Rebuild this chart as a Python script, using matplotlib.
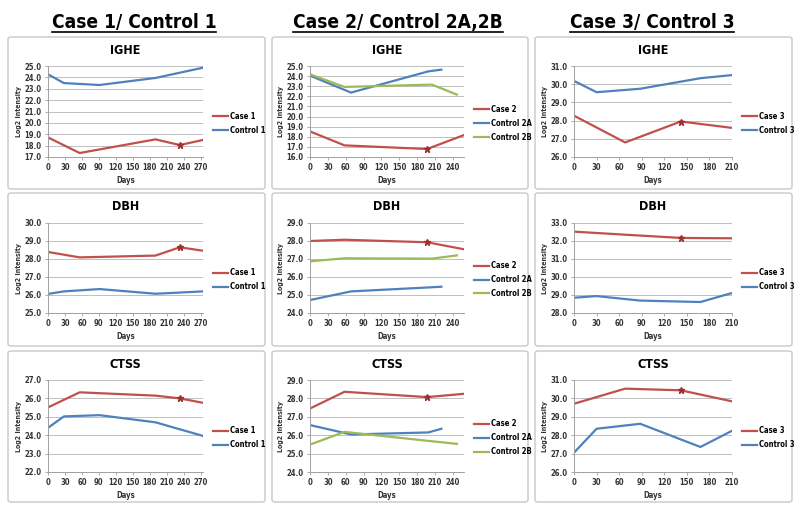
import numpy as np
import matplotlib.pyplot as plt
from matplotlib import font_manager
from matplotlib.patches import FancyBboxPatch
from matplotlib.lines import Line2D

names = {f.name for f in font_manager.fontManager.ttflist}
if 'Liberation Sans Narrow' in names:
    plt.rcParams['font.family'] = ['Liberation Sans Narrow', 'DejaVu Sans']
else:
    plt.rcParams['font.family'] = ['DejaVu Sans']
    plt.rcParams['font.stretch'] = 'condensed'

RED = '#C0504D'
BLUE = '#4F81BD'
GREEN = '#9BBB59'

col_titles = ["Case 1/ Control 1", "Case 2/ Control 2A,2B", "Case 3/ Control 3"]
row_titles = ["IGHE", "DBH", "CTSS"]

# days for each series
days_case1 = [0, 56, 190, 233, 274]
days_ctrl1 = [0, 28, 91, 190, 274]
days_case2 = [0, 58, 197, 259]
days_ctrl2a = [0, 69, 199, 221]
days_ctrl2b = [0, 58, 205, 247]
days_case3 = [0, 68, 142, 210]
days_ctrl3 = [0, 30, 88, 168, 210]

# log2 intensity values
ighe_case1 = [18.72, 17.35, 18.55, 18.05, 18.5]
ighe_ctrl1 = [24.27, 23.5, 23.33, 23.95, 24.85]
dbh_case1 = [28.39, 28.09, 28.19, 28.65, 28.46]
dbh_ctrl1 = [26.06, 26.2, 26.33, 26.07, 26.2]
ctss_case1 = [25.51, 26.33, 26.15, 26.0, 25.76]
ctss_ctrl1 = [24.4, 25.02, 25.09, 24.7, 23.96]

ighe_case2 = [18.53, 17.15, 16.79, 18.17]
ighe_ctrl2a = [24.05, 22.37, 24.47, 24.64]
ighe_ctrl2b = [24.18, 22.93, 23.16, 22.17]
dbh_case2 = [28.0, 28.07, 27.93, 27.54]
dbh_ctrl2a = [24.72, 25.2, 25.42, 25.46]
dbh_ctrl2b = [26.87, 27.04, 27.02, 27.2]
ctss_case2 = [27.45, 28.36, 28.07, 28.25]
ctss_ctrl2a = [26.55, 26.04, 26.15, 26.35]
ctss_ctrl2b = [25.49, 26.18, 25.67, 25.53]

ighe_case3 = [28.27, 26.8, 27.95, 27.6]
ighe_ctrl3 = [30.18, 29.56, 29.75, 30.33, 30.5]
dbh_case3 = [32.52, 32.35, 32.17, 32.15]
dbh_ctrl3 = [28.85, 28.94, 28.69, 28.61, 29.11]
ctss_case3 = [29.71, 30.53, 30.44, 29.84]
ctss_ctrl3 = [27.05, 28.35, 28.62, 27.36, 28.24]

# index of marked point on case line
mark_case1 = 3
mark_case2 = 2
mark_case3 = 2

ylims = [[(17, 25), (16, 25), (26, 31)],
         [(25, 30), (24, 29), (28, 33)],
         [(22, 27), (24, 29), (26, 31)]]
xlims = [(0, 274), (0, 259), (0, 210)]
xticks = [np.arange(0, 271, 30), np.arange(0, 241, 30), np.arange(0, 211, 30)]

panels = [
    [[("Case 1", days_case1, ighe_case1, RED, mark_case1), ("Control 1", days_ctrl1, ighe_ctrl1, BLUE, None)],
     [("Case 2", days_case2, ighe_case2, RED, mark_case2), ("Control 2A", days_ctrl2a, ighe_ctrl2a, BLUE, None),
      ("Control 2B", days_ctrl2b, ighe_ctrl2b, GREEN, None)],
     [("Case 3", days_case3, ighe_case3, RED, mark_case3), ("Control 3", days_ctrl3, ighe_ctrl3, BLUE, None)]],
    [[("Case 1", days_case1, dbh_case1, RED, mark_case1), ("Control 1", days_ctrl1, dbh_ctrl1, BLUE, None)],
     [("Case 2", days_case2, dbh_case2, RED, mark_case2), ("Control 2A", days_ctrl2a, dbh_ctrl2a, BLUE, None),
      ("Control 2B", days_ctrl2b, dbh_ctrl2b, GREEN, None)],
     [("Case 3", days_case3, dbh_case3, RED, mark_case3), ("Control 3", days_ctrl3, dbh_ctrl3, BLUE, None)]],
    [[("Case 1", days_case1, ctss_case1, RED, mark_case1), ("Control 1", days_ctrl1, ctss_ctrl1, BLUE, None)],
     [("Case 2", days_case2, ctss_case2, RED, mark_case2), ("Control 2A", days_ctrl2a, ctss_ctrl2a, BLUE, None),
      ("Control 2B", days_ctrl2b, ctss_ctrl2b, GREEN, None)],
     [("Case 3", days_case3, ctss_case3, RED, mark_case3), ("Control 3", days_ctrl3, ctss_ctrl3, BLUE, None)]],
]

W, H = 800, 514
fig = plt.figure(figsize=(W / 100, H / 100), dpi=100)

# pixel layout (top-origin)
box_x = [(8, 265), (272, 528), (535, 792)]
box_y = [(37, 189), (193, 346), (351, 502)]
ax_x = [(48, 203), (310, 464), (574, 732)]
ax_y = [(66, 157), (223, 313), (380, 472)]

for r in range(3):
    for c in range(3):
        bx0, bx1 = box_x[c]
        by0, by1 = box_y[r]
        fig.add_artist(FancyBboxPatch(
            (bx0 / W, 1 - by1 / H), (bx1 - bx0) / W, (by1 - by0) / H,
            boxstyle="round,pad=0,rounding_size=0.004", transform=fig.transFigure,
            facecolor='white', edgecolor='#C8C8C8', linewidth=1.0, zorder=-5))

        x0, x1 = ax_x[c]
        y0, y1 = ax_y[r]
        ax = fig.add_axes([x0 / W, 1 - y1 / H, (x1 - x0) / W, (y1 - y0) / H])
        ax.set_facecolor('none')
        for name, d, v, col, mk in panels[r][c]:
            ax.plot(d, v, color=col, lw=1.6, label=name)
            if mk is not None:
                ax.plot(d[mk], v[mk], marker='*', color='#A0302D', ms=5, lw=0)
        lo, hi = ylims[r][c]
        ax.set_ylim(lo, hi)
        ax.set_yticks(np.arange(lo, hi + 0.5, 1))
        ax.yaxis.set_major_formatter(plt.FormatStrFormatter('%.1f'))
        ax.set_xlim(*xlims[c])
        ax.set_xticks(xticks[c])
        ax.grid(axis='y', color='#C0C0C0', lw=0.7)
        ax.set_axisbelow(True)
        for s in ['top', 'right']:
            ax.spines[s].set_visible(False)
        for s in ['left', 'bottom']:
            ax.spines[s].set_color('#A0A0A0')
            ax.spines[s].set_linewidth(0.7)
        ax.tick_params(labelsize=5.5, length=2, width=0.6, color='#A0A0A0', pad=2.5)
        for lab in ax.get_xticklabels() + ax.get_yticklabels():
            lab.set_fontweight('bold')
            lab.set_color('#333333')
        ax.set_xlabel("Days", fontsize=5.5, fontweight='bold', labelpad=3, color='#333333')
        ax.set_ylabel("Log2 Intensity", fontsize=5, fontweight='bold', labelpad=2, color='#333333')
        ax.set_title(row_titles[r], fontsize=9, fontweight='bold', pad=9)
        ax.legend(loc='center left', bbox_to_anchor=(1.03, 0.37), frameon=False,
                  handlelength=2.0, handletextpad=0.2, labelspacing=0.65,
                  borderaxespad=0.3, prop={'weight': 'bold', 'size': 5.5})

# column headings, underlined, sized to the reference width
title_x = [134, 398, 652]
title_w = [165, 210, 165]
fig.canvas.draw()
renderer = fig.canvas.get_renderer()
for t, xc, tw in zip(col_titles, title_x, title_w):
    txt = fig.text(xc / W, 1 - 28 / H, t, fontsize=14, fontweight='bold',
                   ha='center', va='baseline')
    bb = txt.get_window_extent(renderer)
    txt.set_fontsize(14 * tw / bb.width)
    bb = txt.get_window_extent(renderer)
    yl = 1 - 32 / H
    fig.add_artist(Line2D([bb.x0 / W, bb.x1 / W], [yl, yl],
                          transform=fig.transFigure, color='black', lw=1.2))

fig.savefig("out.png", dpi=100)
